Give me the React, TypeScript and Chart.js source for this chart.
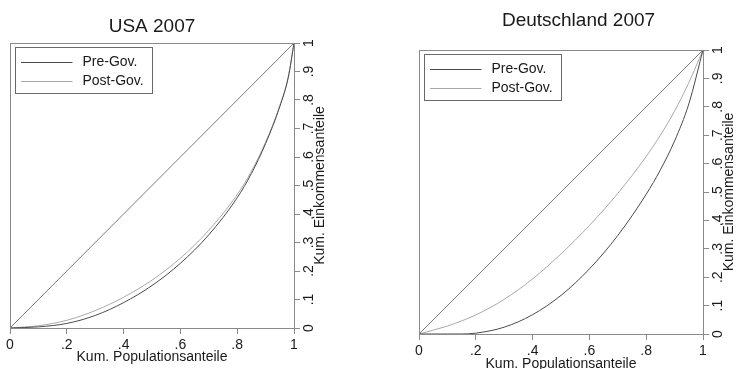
import React, { useEffect, useRef } from 'react';
import { Chart, registerables } from 'chart.js';

Chart.register(...registerables);

// ---------- data ----------
const xTickValues = [0, 0.2, 0.4, 0.6, 0.8, 1];
const xTickLabels = ['0', '.2', '.4', '.6', '.8', '1'];
const yTickValues = [0, 0.1, 0.2, 0.3, 0.4, 0.5, 0.6, 0.7, 0.8, 0.9, 1];
const yTickLabels = ['0', '.1', '.2', '.3', '.4', '.5', '.6', '.7', '.8', '.9', '1'];

const seriesNames = ['Pre-Gov.', 'Post-Gov.'];
const xAxisTitle = 'Kum. Populationsanteile';
const yAxisTitle = 'Kum. Einkommensanteile';

const equalityX = [0, 1];
const equalityY = [0, 1];

const usaPop = [0, 0.1, 0.2, 0.3, 0.4, 0.5, 0.6, 0.7, 0.8, 0.85, 0.9, 0.95, 0.98, 1];
const usaPre = [0, 0.004, 0.016, 0.044, 0.089, 0.149, 0.227, 0.327, 0.457, 0.542, 0.647, 0.777, 0.88, 1];
const usaPost = [0, 0.008, 0.027, 0.061, 0.108, 0.168, 0.245, 0.343, 0.468, 0.55, 0.652, 0.78, 0.882, 1];

const dePop = [0, 0.1, 0.15, 0.2, 0.3, 0.4, 0.5, 0.6, 0.7, 0.8, 0.85, 0.9, 0.95, 1];
const dePre = [0, 0, 0, 0.003, 0.024, 0.068, 0.136, 0.229, 0.347, 0.492, 0.578, 0.68, 0.81, 1];
const dePost = [0, 0.028, 0.046, 0.067, 0.122, 0.194, 0.282, 0.382, 0.495, 0.625, 0.7, 0.785, 0.885, 1];

// ---------- styles ----------
const FONT = '"Liberation Sans", Arial, Helvetica, sans-serif';
const FRAME = '#8a8a8a';
const PRE_COLOR = '#4a4a4a';
const POST_COLOR = '#a8a8a8';
const DIAG_COLOR = '#7a7a7a';
const TEXT = '#1a1a1a';

type PanelProps = {
  title: string;
  pop: number[];
  pre: number[];
  post: number[];
  left: number;
  width: number;
  height: number;
  padding: { left: number; top: number; right: number; bottom: number };
  xAxisHeight: number;
  titleX: number;
  titleY: number;
};

function Panel(props: PanelProps) {
  const ref = useRef<HTMLCanvasElement | null>(null);
  useEffect(() => {
    const canvas = ref.current;
    if (!canvas) return;
    const deco = {
      id: 'deco',
      afterDraw(chart: any) {
        const { ctx, chartArea: a } = chart;
        const ys = chart.scales.y;
        ctx.save();
        // frame
        ctx.strokeStyle = FRAME;
        ctx.lineWidth = 1;
        ctx.strokeRect(a.left + 0.5, a.top + 0.5, a.right - a.left, a.bottom - a.top);
        // y tick labels (rotated)
        ctx.fillStyle = TEXT;
        ctx.font = `14px ${FONT}`;
        ctx.textAlign = 'center';
        ctx.textBaseline = 'middle';
        yTickValues.forEach((v, i) => {
          const py = ys.getPixelForValue(v);
          ctx.save();
          ctx.translate(a.right + 15.5, py);
          ctx.rotate(-Math.PI / 2);
          ctx.fillText(yTickLabels[i], 0, 0);
          ctx.restore();
        });
        // y title
        ctx.save();
        ctx.translate(a.right + 26.5, (a.top + a.bottom) / 2);
        ctx.rotate(-Math.PI / 2);
        ctx.fillText(yAxisTitle, 0, 0);
        ctx.restore();
        // chart title
        ctx.font = `19px ${FONT}`;
        ctx.fillText(props.title, props.titleX, props.titleY);
        // legend
        const bx = a.left + 5.5;
        const by = a.top + 4.5;
        ctx.strokeStyle = '#6a6a6a';
        ctx.strokeRect(bx, by, 137, 46);
        const colors = [PRE_COLOR, POST_COLOR];
        ctx.font = `14px ${FONT}`;
        ctx.textAlign = 'left';
        seriesNames.forEach((name, i) => {
          const ly = Math.round(by + 14 + i * 19.5) + 0.5;
          ctx.strokeStyle = colors[i];
          ctx.beginPath();
          ctx.moveTo(bx + 5.5, ly);
          ctx.lineTo(bx + 57, ly);
          ctx.stroke();
          ctx.fillStyle = TEXT;
          ctx.fillText(name, bx + 67, ly);
        });
        ctx.restore();
      },
    };

    const toPts = (xs: number[], ys: number[]) => xs.map((x, i) => ({ x, y: ys[i] }));

    const chart = new Chart(canvas, {
      type: 'line',
      data: {
        datasets: [
          {
            label: seriesNames[0],
            data: toPts(props.pop, props.pre),
            borderColor: PRE_COLOR,
            borderWidth: 1,
            pointRadius: 0,
            cubicInterpolationMode: 'monotone',
            fill: false,
          },
          {
            label: seriesNames[1],
            data: toPts(props.pop, props.post),
            borderColor: POST_COLOR,
            borderWidth: 1,
            pointRadius: 0,
            cubicInterpolationMode: 'monotone',
            fill: false,
          },
          {
            label: 'Gleichverteilung',
            data: toPts(equalityX, equalityY),
            borderColor: DIAG_COLOR,
            borderWidth: 1,
            pointRadius: 0,
            fill: false,
          },
        ],
      } as any,
      options: {
        animation: false,
        responsive: false,
        maintainAspectRatio: false,
        layout: { padding: props.padding },
        plugins: {
          legend: { display: false },
          tooltip: { enabled: false },
          title: { display: false },
        },
        scales: {
          x: {
            type: 'linear',
            min: 0,
            max: 1,
            afterBuildTicks: (s: any) => {
              s.ticks = xTickValues.map((v) => ({ value: v }));
            },
            afterFit: (s: any) => {
              s.height = props.xAxisHeight;
              s.paddingLeft = 0;
              s.paddingRight = 0;
            },
            ticks: {
              callback: (_v: any, i: number) => xTickLabels[i],
              font: { family: FONT, size: 14 },
              color: TEXT,
              padding: 3,
              maxRotation: 0,
              minRotation: 0,
              autoSkip: false,
            },
            grid: { drawOnChartArea: false, drawTicks: true, tickLength: 6, color: FRAME },
            border: { display: false },
            title: {
              display: true,
              text: xAxisTitle,
              font: { family: FONT, size: 14 },
              color: TEXT,
              padding: 0,
            },
          },
          y: {
            type: 'linear',
            position: 'right',
            min: 0,
            max: 1,
            afterBuildTicks: (s: any) => {
              s.ticks = yTickValues.map((v) => ({ value: v }));
            },
            afterFit: (s: any) => {
              s.width = 30;
              s.paddingTop = 0;
              s.paddingBottom = 0;
            },
            ticks: { display: false },
            grid: { drawOnChartArea: false, drawTicks: true, tickLength: 6, color: FRAME },
            border: { display: false },
          },
        },
      } as any,
      plugins: [deco],
    });
    return () => chart.destroy();
  }, []);

  return (
    <canvas
      ref={ref}
      width={props.width}
      height={props.height}
      style={{ position: 'absolute', left: props.left, top: 0, width: props.width, height: props.height }}
    />
  );
}

export default function App() {
  return (
    <div
      style={{
        position: 'fixed',
        left: 0,
        top: 0,
        width: 737,
        height: 369,
        overflow: 'hidden',
        background: '#fff',
      }}
    >
      <Panel
        title="USA 2007"
        pop={usaPop}
        pre={usaPre}
        post={usaPost}
        left={0}
        width={368}
        height={390}
        padding={{ left: 10, top: 43, right: 44, bottom: 24 }}
        xAxisHeight={38}
        titleX={152}
        titleY={27}
      />
      <Panel
        title="Deutschland 2007"
        pop={dePop}
        pre={dePre}
        post={dePost}
        left={368}
        width={369}
        height={390}
        padding={{ left: 51, top: 50, right: 4, bottom: 17 }}
        xAxisHeight={39}
        titleX={210.5}
        titleY={20.5}
      />
    </div>
  );
}
